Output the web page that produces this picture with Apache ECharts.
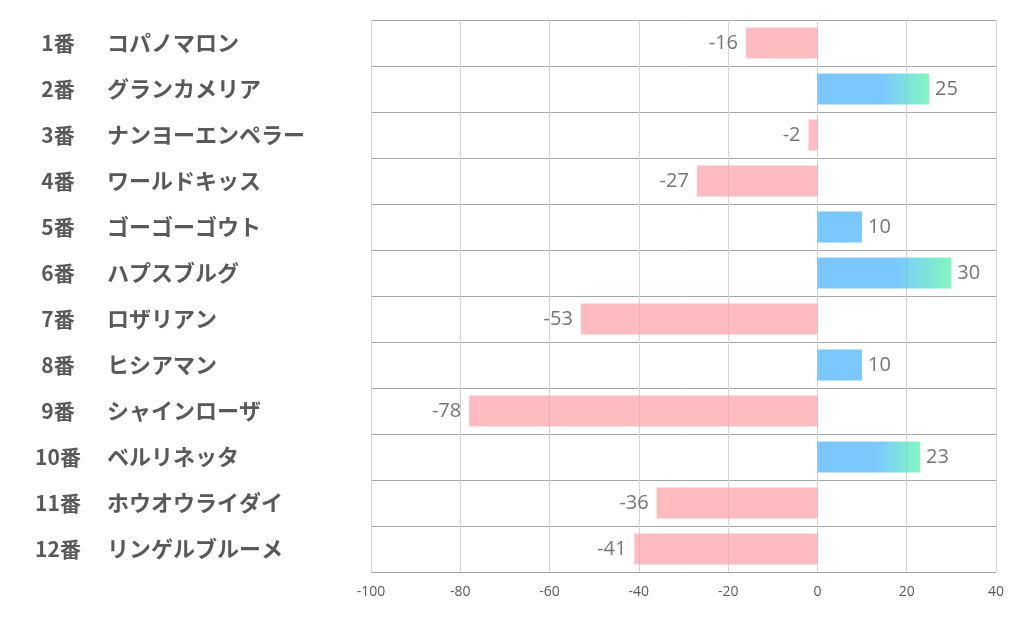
<!DOCTYPE html>
<html><head><meta charset="utf-8">
<script src="https://cdn.jsdelivr.net/npm/echarts@6/dist/echarts.min.js"></script>
<style>html,body{margin:0;padding:0;background:#fff}#c{width:1022px;height:626px}</style>
</head><body><div id="c"></div>
<script>
const numbers = ['1番','2番','3番','4番','5番','6番','7番','8番','9番','10番','11番','12番'];
const horses = ['コパノマロン','グランカメリア','ナンヨーエンペラー','ワールドキッス','ゴーゴーゴウト','ハプスブルグ','ロザリアン','ヒシアマン','シャインローザ','ベルリネッタ','ホウオウライダイ','リンゲルブルーメ'];
const values = [-16, 25, -2, -27, 10, 30, -53, 10, -78, 23, -36, -41];
const xTicks = [-100, -80, -60, -40, -20, 0, 20, 40];

const categories = numbers.map((n, i) => n + '|' + horses[i]);
const BLUE = 'rgba(90,185,255,0.8)';
const GREEN = 'rgba(100,245,175,0.8)';
const PINK = 'rgba(255,160,165,0.7)';

const data = values.map(v => {
  let color;
  if (v < 0) color = PINK;
  else if (v >= 20) color = {type:'linear', x:0, y:0, x2:1, y2:0, colorStops:[{offset:0,color:BLUE},{offset:0.57,color:BLUE},{offset:1,color:GREEN}]};
  else color = BLUE;
  return {
    value: v,
    itemStyle: {color},
    label: {position: v < 0 ? 'left' : 'right', distance: v < 0 ? 8 : 6}
  };
});

const chart = echarts.init(document.getElementById('c'));
chart.setOption({
  animation: false,
  grid: {left: 371, right: 26, top: 20, bottom: 54, containLabel: false},
  xAxis: {
    type: 'value', min: xTicks[0], max: xTicks[xTicks.length-1], interval: 20,
    axisLine: {show: false},
    axisTick: {show: false},
    splitLine: {show: true, lineStyle: {color: '#d4d4d4', width: 1}},
    axisLabel: {color: '#595959', fontSize: 14, fontFamily: 'Open Sans', margin: 13}
  },
  yAxis: {
    type: 'category', inverse: true, data: categories,
    axisLine: {show: false, onZero: false},
    axisTick: {show: false},
    splitLine: {show: true, lineStyle: {color: '#a6a6a6', width: 1}},
    axisLabel: {
      margin: 337, align: 'left',
      formatter: v => { const p = v.split('|'); return '{n|' + p[0] + '}{s|}{m|' + p[1] + '}'; },
      rich: {
        n: {width: 48, align: 'right', fontSize: 21, fontWeight: 'bold', color: '#595959', fontFamily: 'Noto Sans CJK JP'},
        s: {width: 25},
        m: {align: 'left', fontSize: 22, fontWeight: 'bold', color: '#595959', fontFamily: 'Noto Sans CJK JP'}
      }
    }
  },
  series: [{
    type: 'bar', data, barWidth: 31,
    label: {show: true, color: '#767676', fontSize: 20, fontFamily: 'Open Sans'}
  }]
});
</script></body></html>
